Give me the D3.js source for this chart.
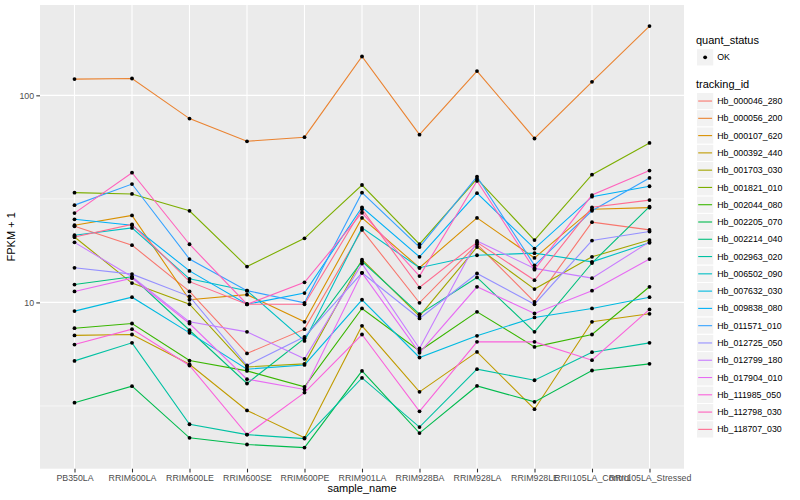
<!DOCTYPE html>
<html>
<head>
<meta charset="utf-8">
<script src="https://cdn.jsdelivr.net/npm/d3@7"></script>
<style>
  body { margin: 0; background: #ffffff; }
  svg { display: block; font-family: "Liberation Sans", Arial, Helvetica, sans-serif; }
</style>
</head>
<body>
<svg id="chart" width="800" height="500"></svg>
<script>
// ---- data (FPKM + 1) ----
const samples = ["PB350LA", "RRIM600LA", "RRIM600LE", "RRIM600SE", "RRIM600PE", "RRIM901LA",
  "RRIM928BA", "RRIM928LA", "RRIM928LE", "RRII105LA_Control", "RRII105LA_Stressed"];

const trackingIds = ["Hb_000046_280", "Hb_000056_200", "Hb_000107_620", "Hb_000392_440",
  "Hb_001703_030", "Hb_001821_010", "Hb_002044_080", "Hb_002205_070", "Hb_002214_040",
  "Hb_002963_020", "Hb_006502_090", "Hb_007632_030", "Hb_009838_080", "Hb_011571_010",
  "Hb_012725_050", "Hb_012799_180", "Hb_017904_010", "Hb_111985_050", "Hb_112798_030",
  "Hb_118707_030"];

const Hb_000046_280 = [23.3, 18.9, 11.3, 5.67, 7.43, 22.4, 9.96, 19.1, 10.07, 24.4, 22.4];
const Hb_000056_200 = [119.8, 120.6, 77.2, 60.0, 62.8, 154, 64.6, 131, 61.9, 116.2, 216];
const Hb_000107_620 = [23.6, 26.3, 10.3, 10.9, 8.06, 25.6, 14.7, 25.6, 16.4, 28.2, 28.7];
const Hb_000392_440 = [6.93, 7.00, 5.03, 3.01, 2.22, 7.71, 3.70, 5.77, 3.05, 8.06, 8.81];
const Hb_001703_030 = [20.7, 12.4, 9.8, 4.88, 5.05, 16.1, 8.59, 18.5, 11.6, 16.6, 20.0];
const Hb_001821_010 = [33.9, 33.4, 27.7, 14.9, 20.4, 36.9, 19.1, 39.5, 20.0, 41.4, 58.9];
const Hb_002044_080 = [7.51, 7.91, 5.24, 4.67, 3.91, 9.35, 5.83, 9.01, 6.10, 7.00, 11.9];
const Hb_002205_070 = [3.28, 3.94, 2.22, 2.06, 1.99, 4.67, 2.34, 3.95, 3.31, 4.69, 5.05];
const Hb_002214_040 = [12.2, 13.3, 7.34, 4.06, 6.70, 15.8, 8.78, 13.2, 7.21, 15.5, 29.0];
const Hb_002963_020 = [5.22, 6.38, 2.58, 2.30, 2.20, 4.32, 2.50, 4.76, 4.21, 5.75, 6.38];
const Hb_006502_090 = [21.1, 22.9, 13.0, 11.4, 6.52, 22.9, 14.7, 16.9, 17.3, 15.7, 19.4];
const Hb_007632_030 = [9.08, 10.6, 7.13, 4.76, 4.99, 10.3, 5.42, 6.90, 8.46, 9.35, 10.6];
const Hb_009838_080 = [25.2, 23.6, 14.2, 9.8, 11.1, 28.8, 16.6, 33.7, 18.2, 32.4, 36.4];
const Hb_011571_010 = [29.5, 37.3, 16.2, 11.4, 9.96, 33.9, 18.5, 40.5, 15.1, 27.7, 39.9];
const Hb_012725_050 = [14.7, 13.7, 10.7, 4.97, 6.82, 13.9, 8.37, 13.8, 9.8, 19.9, 22.0];
const Hb_012799_180 = [19.5, 13.3, 8.06, 7.21, 5.34, 15.4, 5.99, 19.8, 14.6, 13.1, 19.6];
const Hb_017904_010 = [11.3, 13.1, 7.91, 4.26, 3.80, 13.9, 5.71, 11.9, 8.85, 11.4, 16.2];
const Hb_111985_050 = [6.26, 7.43, 4.96, 2.30, 3.67, 7.00, 2.98, 6.45, 6.45, 5.26, 9.25];
const Hb_112798_030 = [27.0, 42.3, 19.1, 9.8, 12.5, 27.1, 13.4, 38.6, 14.4, 33.0, 43.3];
const Hb_118707_030 = [20.7, 23.8, 12.6, 9.8, 9.8, 28.2, 11.8, 19.5, 12.8, 28.8, 31.2];

const yMajorTicks = [10, 100];
const yTickLabels = ["10", "100"];
const quantStatus = ["OK"];

const seriesValues = [Hb_000046_280, Hb_000056_200, Hb_000107_620, Hb_000392_440,
  Hb_001703_030, Hb_001821_010, Hb_002044_080, Hb_002205_070, Hb_002214_040,
  Hb_002963_020, Hb_006502_090, Hb_007632_030, Hb_009838_080, Hb_011571_010,
  Hb_012725_050, Hb_012799_180, Hb_017904_010, Hb_111985_050, Hb_112798_030,
  Hb_118707_030];

// ---- style ----
const palette = ["#F8766D", "#EA8331", "#D89000", "#C09B00", "#A3A500", "#7CAE00", "#39B600",
  "#00BB4E", "#00BF7D", "#00C1A3", "#00BFC4", "#00BAE0", "#00B0F6", "#35A2FF", "#9590FF",
  "#C77CFF", "#E76BF3", "#FA62DB", "#FF62BC", "#FF6C91"];

const series = trackingIds.map((id, i) => ({
  id, color: palette[i],
  points: samples.map((s, j) => ({ sample: s, value: seriesValues[i][j] }))
}));

const svg = d3.select("#chart");
const panel = { left: 40, right: 684, top: 5, bottom: 468.7 };

const x = d3.scalePoint().domain(samples).range([panel.left, panel.right]).padding(0.6);

const allVals = seriesValues.flat();
const lmin = Math.log10(d3.min(allVals)), lmax = Math.log10(d3.max(allVals));
const pad = (lmax - lmin) * 0.05;
const y = d3.scaleLog().domain([Math.pow(10, lmin - pad), Math.pow(10, lmax + pad)])
  .range([panel.bottom, panel.top]);

// panel background
svg.append("rect").attr("x", panel.left).attr("y", panel.top)
  .attr("width", panel.right - panel.left).attr("height", panel.bottom - panel.top)
  .attr("fill", "#EBEBEB");

const grid = svg.append("g");
// minor y gridlines (ggplot: midpoints between major breaks in log space)
const minorBreaks = [1, 10, 100, 1000].slice(0, -1).map(v => v * Math.sqrt(10))
  .filter(v => v > y.domain()[0] && v < y.domain()[1]);
grid.selectAll(".minor").data(minorBreaks).join("line")
  .attr("x1", panel.left).attr("x2", panel.right)
  .attr("y1", d => y(d)).attr("y2", d => y(d))
  .attr("stroke", "#FFFFFF").attr("stroke-width", 0.55);
grid.selectAll(".major").data(yMajorTicks).join("line")
  .attr("x1", panel.left).attr("x2", panel.right)
  .attr("y1", d => y(d)).attr("y2", d => y(d))
  .attr("stroke", "#FFFFFF").attr("stroke-width", 1.1);
grid.selectAll(".xmajor").data(samples).join("line")
  .attr("x1", d => x(d)).attr("x2", d => x(d))
  .attr("y1", panel.top).attr("y2", panel.bottom)
  .attr("stroke", "#FFFFFF").attr("stroke-width", 1.1);

// lines
const line = d3.line().x(d => x(d.sample)).y(d => y(d.value));
svg.append("g").selectAll("path").data(series).join("path")
  .attr("d", d => line(d.points))
  .attr("fill", "none").attr("stroke", d => d.color).attr("stroke-width", 1.1);

// points
svg.append("g").selectAll("g").data(series).join("g")
  .selectAll("circle").data(d => d.points).join("circle")
  .attr("cx", d => x(d.sample)).attr("cy", d => y(d.value))
  .attr("r", 1.9).attr("fill", "#000000");

// axes
const xAxis = d3.axisBottom(x).tickSize(3.7).tickPadding(2.5);
const gx = svg.append("g").attr("transform", `translate(0,${panel.bottom})`).call(xAxis);
gx.select(".domain").remove();
gx.selectAll(".tick line").attr("stroke", "#333333").attr("stroke-width", 1.07);
gx.selectAll(".tick text").attr("fill", "#4D4D4D").attr("font-size", 8.8)
  .attr("font-family", "'Liberation Sans', Arial, sans-serif");

const yAxis = d3.axisLeft(y).tickValues(yMajorTicks)
  .tickFormat((d, i) => yTickLabels[i]).tickSize(3.7).tickPadding(2.2);
const gy = svg.append("g").attr("transform", `translate(${panel.left},0)`).call(yAxis);
gy.select(".domain").remove();
gy.selectAll(".tick line").attr("stroke", "#333333").attr("stroke-width", 1.07);
gy.selectAll(".tick text").attr("fill", "#4D4D4D").attr("font-size", 8.8)
  .attr("font-family", "'Liberation Sans', Arial, sans-serif");

// axis titles
svg.append("text").attr("x", (panel.left + panel.right) / 2).attr("y", 492)
  .attr("text-anchor", "middle").attr("font-size", 11).attr("fill", "#000")
  .text("sample_name");
svg.append("text").attr("transform", `translate(15,${(panel.top + panel.bottom) / 2}) rotate(-90)`)
  .attr("text-anchor", "middle").attr("font-size", 11).attr("fill", "#000")
  .text("FPKM + 1");

// legends
const lg = svg.append("g");
const keySize = 17.28, keyX = 696.5;
lg.append("text").attr("x", 696).attr("y", 44).attr("font-size", 11).text("quant_status");
const qs = lg.selectAll(".qs").data(quantStatus).join("g")
  .attr("transform", (d, i) => `translate(${keyX},${48.7 + i * keySize})`);
qs.append("rect").attr("width", keySize).attr("height", keySize)
  .attr("fill", "#F2F2F2").attr("stroke", "#FFFFFF").attr("stroke-width", 1);
qs.append("circle").attr("cx", keySize / 2).attr("cy", keySize / 2).attr("r", 1.9).attr("fill", "#000");
qs.append("text").attr("x", keySize + 3.5).attr("y", keySize / 2).attr("dy", "0.35em")
  .attr("font-size", 8.8).text(d => d);

lg.append("text").attr("x", 696).attr("y", 88).attr("font-size", 11).text("tracking_id");
const tk = lg.selectAll(".tk").data(series).join("g")
  .attr("transform", (d, i) => `translate(${keyX},${92.4 + i * keySize})`);
tk.append("rect").attr("width", keySize).attr("height", keySize)
  .attr("fill", "#F2F2F2").attr("stroke", "#FFFFFF").attr("stroke-width", 1);
tk.append("line").attr("x1", 1.7).attr("x2", keySize - 1.7)
  .attr("y1", keySize / 2).attr("y2", keySize / 2)
  .attr("stroke", d => d.color).attr("stroke-width", 1.1);
tk.append("text").attr("x", keySize + 3.5).attr("y", keySize / 2).attr("dy", "0.35em")
  .attr("font-size", 8.8).text(d => d.id);
</script>
</body>
</html>
